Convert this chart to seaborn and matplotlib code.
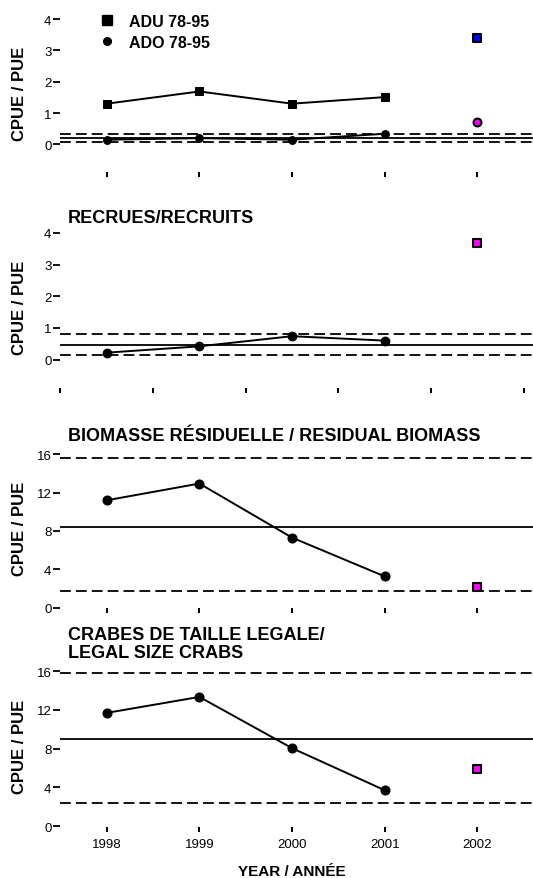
import matplotlib
matplotlib.use("Agg")
import matplotlib.pyplot as plt
import seaborn as sns
from matplotlib.lines import Line2D

# 数据
years = [1998, 1999, 2000, 2001]
year_ticks = [1998, 1999, 2000, 2001, 2002]
half_ticks = [1997.5, 1998.5, 1999.5, 2000.5, 2001.5, 2002.5]

adu = [1.30, 1.69, 1.30, 1.51]
adu_2002 = 3.39
ado = [0.15, 0.20, 0.15, 0.34]
ado_2002 = 0.71
ref_p1 = [0.32, 0.19, 0.07]          # dashed, solid, dashed

recruits = [0.22, 0.42, 0.74, 0.60]
recruits_2002 = 3.67
ref_p2 = [0.82, 0.46, 0.16]

residual = [11.2, 12.95, 7.3, 3.25]
residual_2002 = 2.15
ref_p3 = [15.65, 8.4, 1.7]

legal = [11.7, 13.35, 8.05, 3.7]
legal_2002 = 5.85
ref_p4 = [15.8, 9.05, 2.42]

sns.set_style("ticks")
plt.rcParams['font.family'] = ['Liberation Sans', 'DejaVu Sans']
plt.rcParams['text.color'] = 'black'
plt.rcParams['axes.labelcolor'] = 'black'
plt.rcParams['xtick.color'] = 'black'
plt.rcParams['ytick.color'] = 'black'

W, H = 533, 879
fig = plt.figure(figsize=(W / 100, H / 100), dpi=100)

left = 60.4 / W
xlim = (1997.5, 2002.6)
dash = (0, (6, 2.8))
LW = 1.4


def make_ax(top_px, bottom_px):
    ax = fig.add_axes([left, 1 - bottom_px / H, 1 - left, (bottom_px - top_px) / H])
    for s in ax.spines.values():
        s.set_visible(False)
    ax.set_xlim(*xlim)
    ax.tick_params(axis='y', length=4.7, width=1.3, pad=1.7, labelsize=9.5,
                   colors='black')
    ax.tick_params(axis='x', length=3.6, width=1.4, pad=4, labelsize=9.5,
                   colors='black')
    ax.set_facecolor('white')
    return ax


def ref_lines(ax, ref):
    ax.axhline(ref[0], color='black', lw=1.3, ls=dash)
    ax.axhline(ref[1], color='black', lw=1.3)
    ax.axhline(ref[2], color='black', lw=1.3, ls=dash)


def ylab(ax_top, ax_bot):
    fig.text(19.5 / W, 1 - (ax_top + ax_bot) / 2 / H, 'CPUE / PUE', rotation=90,
             ha='center', va='center', fontsize=12, fontweight='bold')


# 面板 1
ax1 = make_ax(13.8, 173)
ax1.set_ylim(-0.88, 4.2)
ax1.set_yticks([0, 1, 2, 3, 4])
ax1.set_xticks(year_ticks)
ax1.set_xticklabels([])
ref_lines(ax1, ref_p1)
sns.lineplot(x=years, y=adu, ax=ax1, color='black', marker='s', markersize=6.2,
             markeredgecolor='black', linewidth=LW)
sns.lineplot(x=years, y=ado, ax=ax1, color='black', marker='o', markersize=5.6,
             markeredgecolor='black', linewidth=LW)
sns.scatterplot(x=[2002], y=[adu_2002], ax=ax1, marker='s', color='blue',
                edgecolor='black', linewidth=1.5, s=36, zorder=3)
sns.scatterplot(x=[2002], y=[ado_2002], ax=ax1, marker='o', color='magenta',
                edgecolor='black', linewidth=1.5, s=32, zorder=3)
ax1.set_xlabel('')
ax1.set_ylabel('')
ylab(13.8, 173)
handles = [Line2D([], [], ls='', marker='s', color='black', markersize=6.5),
           Line2D([], [], ls='', marker='o', color='black', markersize=5.5)]
ax1.legend(handles, ['ADU 78-95', 'ADO 78-95'], loc='upper left',
           bbox_to_anchor=(99 / W, 1 - 15 / H), bbox_transform=fig.transFigure,
           frameon=False, borderpad=0, borderaxespad=0, handlelength=1,
           handletextpad=0.9, labelspacing=0.35,
           prop={'weight': 'bold', 'size': 11.5})

# 面板 2
ax2 = make_ax(227.6, 388.5)
ax2.set_ylim(-0.88, 4.2)
ax2.set_yticks([0, 1, 2, 3, 4])
ax2.set_xticks(half_ticks)
ax2.set_xticklabels([])
ref_lines(ax2, ref_p2)
sns.lineplot(x=years, y=recruits, ax=ax2, color='black', marker='o', markersize=6.3,
             markeredgecolor='black', linewidth=LW)
sns.scatterplot(x=[2002], y=[recruits_2002], ax=ax2, marker='s', color='magenta',
                edgecolor='black', linewidth=1.5, s=32, zorder=3)
ax2.set_xlabel('')
ax2.set_ylabel('')
ylab(227.6, 388.5)
fig.text(68 / W, 1 - 219 / H, 'RECRUES/RECRUITS', ha='left', va='center',
         fontsize=13, fontweight='bold')

# 面板 3
ax3 = make_ax(449.6, 609)
ax3.set_ylim(-0.05, 16.6)
ax3.set_yticks([0, 4, 8, 12, 16])
ax3.set_xticks(year_ticks)
ax3.set_xticklabels([])
ref_lines(ax3, ref_p3)
sns.lineplot(x=years, y=residual, ax=ax3, color='black', marker='o', markersize=6.5,
             markeredgecolor='black', linewidth=LW)
sns.scatterplot(x=[2002], y=[residual_2002], ax=ax3, marker='s', color='magenta',
                edgecolor='black', linewidth=1.5, s=32, zorder=3)
ax3.set_xlabel('')
ax3.set_ylabel('')
ylab(449.6, 609)
fig.text(68 / W, 1 - 436.5 / H, 'BIOMASSE RÉSIDUELLE / RESIDUAL BIOMASS',
         ha='left', va='center', fontsize=13, fontweight='bold')

# 面板 4
ax4 = make_ax(666.5, 828)
ax4.set_ylim(-0.1, 16.6)
ax4.set_yticks([0, 4, 8, 12, 16])
ax4.set_xticks(year_ticks)
ax4.set_xticklabels([str(y) for y in year_ticks])
ref_lines(ax4, ref_p4)
sns.lineplot(x=years, y=legal, ax=ax4, color='black', marker='o', markersize=6.5,
             markeredgecolor='black', linewidth=LW)
sns.scatterplot(x=[2002], y=[legal_2002], ax=ax4, marker='s', color='magenta',
                edgecolor='black', linewidth=1.5, s=32, zorder=3)
ax4.set_xlabel('')
ax4.set_ylabel('')
ylab(666.5, 828)
fig.text(68 / W, 1 - 635 / H, 'CRABES DE TAILLE LEGALE/', ha='left', va='center',
         fontsize=13, fontweight='bold')
fig.text(68 / W, 1 - 654 / H, 'LEGAL SIZE CRABS', ha='left', va='center',
         fontsize=13, fontweight='bold')

fig.text(292 / W, 1 - 872 / H, 'YEAR / ANNÉE', ha='center', va='center',
         fontsize=11, fontweight='bold')

fig.savefig('out.png', dpi=100, facecolor='white')
